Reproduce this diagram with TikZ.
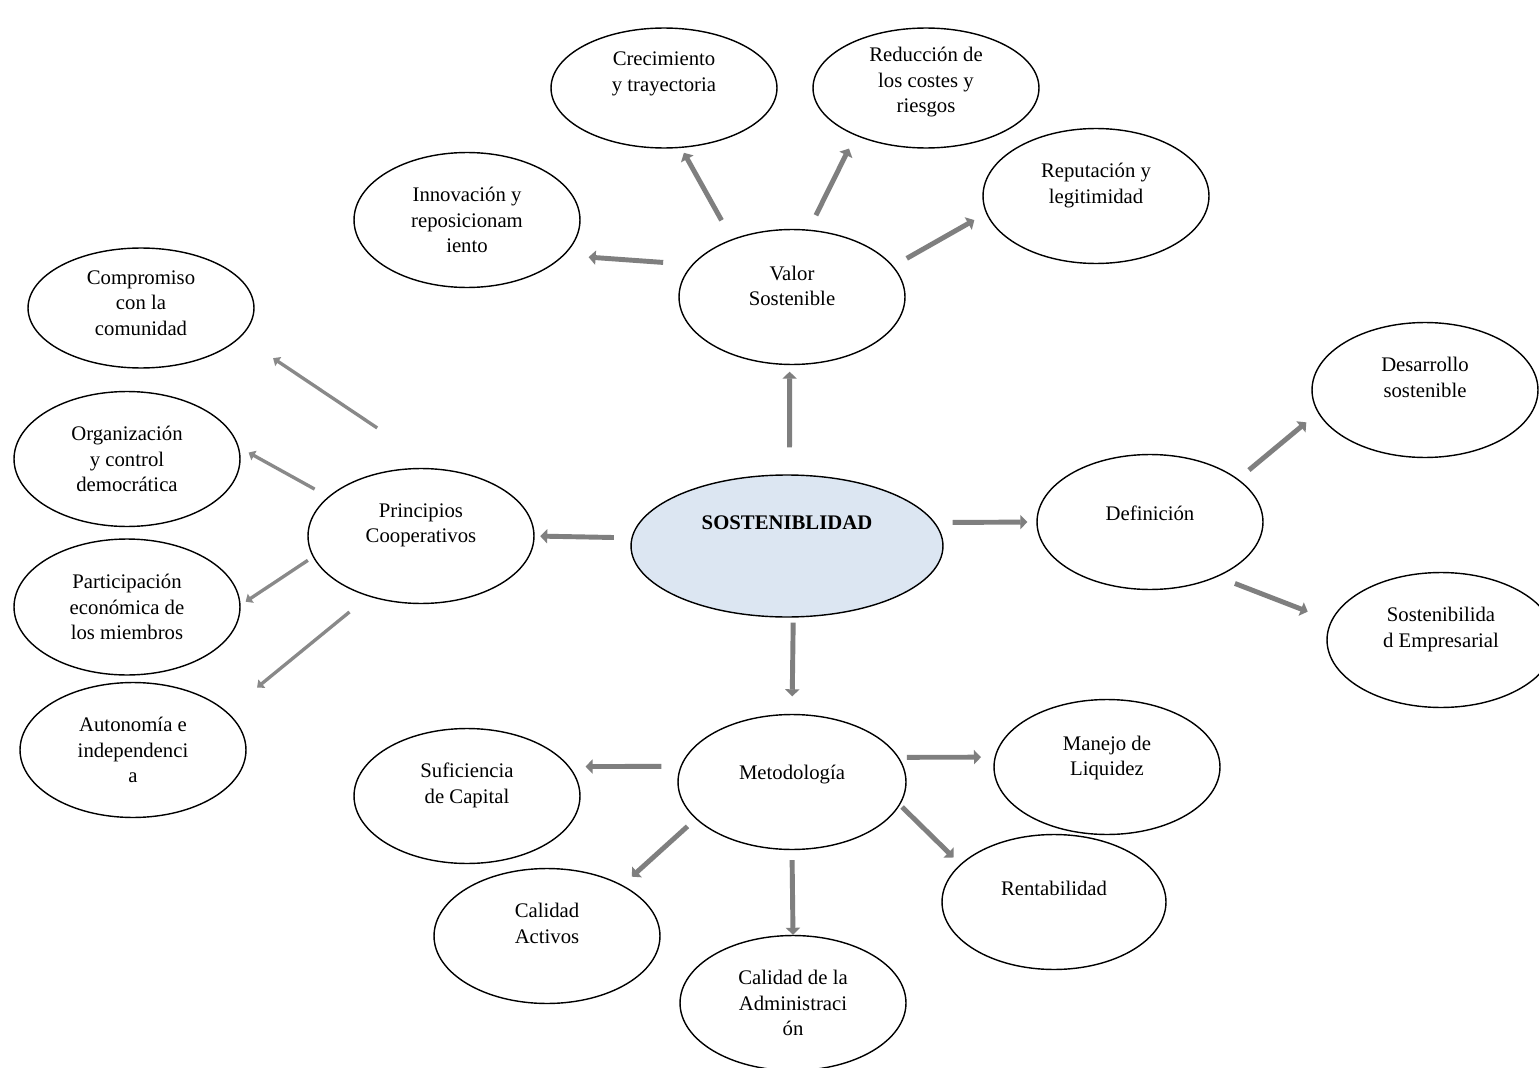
\documentclass[tikz,border=0pt]{standalone}
\usepackage{fontspec}
\setmainfont{Liberation Serif}
\usetikzlibrary{shapes.geometric, arrows.meta}

\definecolor{coreblue}{HTML}{DCE6F2}
\definecolor{linkgray}{HTML}{7F7F7F}

\begin{document}
\begin{tikzpicture}[
        x=0.02cm, y=-0.02cm,
        font=\fontsize{11.8pt}{14.5pt}\selectfont,
        bubble/.style={
            ellipse,
            draw=black,
            line width=0.8pt,
            minimum width=4.52cm,
            minimum height=2.7cm,
            inner sep=0pt,
            align=center
        },
        core/.style={
            bubble,
            fill=coreblue,
            minimum width=6.24cm,
            minimum height=2.84cm,
            font=\fontsize{11.8pt}{14.5pt}\selectfont\bfseries
        },
        link/.style={
            line width=2.8pt,
            draw=linkgray,
            -{Triangle[length=4pt, width=8pt]}
        },
        thin link/.style={
            line width=1.9pt,
            draw=linkgray!92,
            -{Triangle[length=3.5pt, width=6pt]}
        }
    ]

    \path [use as bounding box, fill=white] (0,0) rectangle (1539,1068);

    % Centre
    \node (sost) [core] at (787,546) {SOSTENIBLIDAD\\[4.1mm]};

    % Valor Sostenible
    \node (valor) [bubble] at (792,297) {Valor\\Sostenible\\[-0.7mm]};
    \node (crec) [bubble, minimum height=2.4cm] at (664,88) {Crecimiento\\y trayectoria\\[1.5mm]};
    \node (reduc) [bubble, minimum height=2.4cm] at (926,88) {Reducción de\\los costes y\\riesgos\\[-1.9mm]};
    \node (reput) [bubble] at (1096,196) {Reputación y\\legitimidad\\};
    \node (innov) [bubble] at (467,220) {Innovación y\\reposicionam\\iento};

    % Principios Cooperativos
    \node (prin) [bubble] at (421,536) {Principios\\Cooperativos\\};
    \node (comp) [bubble, minimum height=2.4cm] at (141,308) {Compromiso\\con la\\comunidad\\[-3.1mm]};
    \node (org) [bubble] at (127,459) {Organización\\y control\\democrática};
    \node (part) [bubble, minimum height=2.72cm] at (127,607) {Participación\\económica de\\los miembros};
    \node (auton) [bubble] at (133,750) {Autonomía e\\independenci\\a};

    % Definicion
    \node (def) [bubble] at (1150,522) {Definición\\[-1.5mm]};
    \node (desa) [bubble] at (1425,390) {Desarrollo\\sostenible\\};
    \node (semp) [bubble, minimum width=4.56cm] at (1441,640) {Sostenibilida\\d Empresarial\\};

    % Metodologia
    \node (met) [bubble, minimum width=4.56cm] at (792,782) {Metodología\\[-1.1mm]};
    \node (sufi) [bubble] at (467,796) {Suficiencia\\de Capital\\};
    \node (cact) [bubble] at (547,936) {Calidad\\Activos\\};
    \node (cadm) [bubble] at (793,1003) {Calidad de la\\Administraci\\ón};
    \node (manejo) [bubble] at (1107,767) {Manejo de\\Liquidez\\[-0.7mm]};
    \node (rent) [bubble, minimum width=4.48cm] at (1054,902) {Rentabilidad\\[0.5mm]};

    % Links - centre
    \draw [link, shorten <=5.4mm, shorten >=1.3mm] (sost.88) -- (valor.-92);
    \draw [link, shorten <=3.5mm, shorten >=1.1mm] (sost.177) -- (prin.east);
    \draw [link, shorten <=3.5mm, shorten >=1.8mm] (sost.9) -- (def.west);
    \draw [link, shorten <=1mm, shorten >=3.5mm] (sost.-85) -- (met.north);

    % Links - Valor Sostenible
    \draw [link, shorten <=5.8mm, shorten >=4.9mm] (valor.162) -- (innov.-20);
    \draw [link, shorten <=4.3mm, shorten >=1.1mm] (valor.136) -- (crec.-74);
    \draw [link, shorten <=3.2mm, shorten >=2.9mm] (valor.76) -- (reduc.-146);
    \draw [link, shorten <=3.1mm, shorten >=2.7mm] (valor.17) -- (reput.-171);

    % Links - Principios Cooperativos
    \draw [thin link, shorten <=14.6mm, shorten >=7.7mm] (prin.76) -- (comp.-16);
    \draw [thin link, shorten <=3.1mm, shorten >=2.2mm] (prin.157) -- (org.6);
    \draw [thin link, shorten <=1.2mm, shorten >=1.2mm] (prin.-169) -- (part.1);
    \draw [thin link, shorten <=4.9mm, shorten >=7.7mm] (prin.-131) -- (auton.22);

    % Links - Definicion
    \draw [link, shorten <=2.8mm, shorten >=3mm] (def.26) -- (desa.-168);
    \draw [link, shorten <=3.7mm, shorten >=5mm] (def.-39) -- (semp.170);

    % Links - Metodologia
    \draw [link, shorten <=3.8mm, shorten >=3.2mm] (met.172) -- (sufi.16);
    \draw [link, shorten <=1.6mm, shorten >=2.7mm] (met.13) -- (manejo.175);
    \draw [link, shorten <=2.2mm, shorten >=2.5mm] (met.-159) -- (cact.34);
    \draw [link, shorten <=2mm, shorten >=0mm] (met.south) -- (cadm.north);
    \draw [link, shorten <=0.6mm, shorten >=1.9mm] (met.-12) -- (rent.158);

\end{tikzpicture}
\end{document}
